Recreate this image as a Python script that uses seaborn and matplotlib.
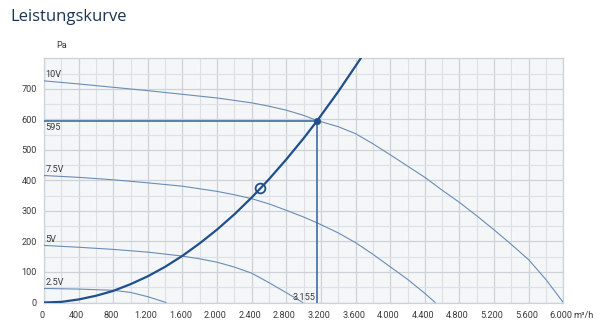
import matplotlib
matplotlib.use("Agg")
import matplotlib.pyplot as plt
from matplotlib.ticker import MultipleLocator, FuncFormatter
from matplotlib.transforms import ScaledTranslation
import seaborn as sns
import pandas as pd

# ---- data ----
q_10v = [0, 400, 800, 1200, 1600, 2000, 2400, 2600, 2800, 3000, 3155, 3400, 3600, 3800,
         4000, 4200, 4400, 4600, 4800, 5000, 5200, 5400, 5600, 5800, 6000]
p_10v = [726, 716, 705, 694, 682, 670, 654, 643, 630, 613, 596, 576, 553, 520,
         484, 447, 410, 368, 328, 284, 238, 190, 140, 75, 0]

q_75v = [0, 400, 800, 1200, 1600, 2000, 2200, 2400, 2600, 2800, 3000, 3155, 3400, 3600,
         3800, 4000, 4200, 4400, 4520]
p_75v = [416, 410, 402, 392, 381, 364, 353, 340, 323, 302, 280, 261, 228, 196,
         158, 117, 76, 30, 0]

q_5v = [0, 400, 800, 1200, 1600, 1800, 2000, 2200, 2400, 2600, 2800, 2990]
p_5v = [187, 181, 174, 165, 152, 143, 132, 116, 96, 65, 32, 0]

q_25v = [0, 400, 600, 800, 1000, 1200, 1410]
p_25v = [46, 44, 42, 40, 33, 19, 0]

q_sys = [0, 200, 400, 600, 800, 1000, 1200, 1400, 1600, 1800, 2000, 2200, 2400,
         2600, 2800, 3000, 3155, 3400, 3660]
p_sys = [0, 2, 10, 22, 38, 60, 86, 117, 153, 194, 239, 289, 344,
         404, 469, 538, 595, 691, 800]

curve_labels = ["10V", "7.5V", "5V", "2.5V"]
op_q, op_p = 3155, 595          # operating point
design_q, design_p = 2500, 374  # open circle
x_ticks = [0, 400, 800, 1200, 1600, 2000, 2400, 2800, 3200, 3600, 4000, 4400, 4800, 5200, 5600, 6000]
y_ticks = [0, 100, 200, 300, 400, 500, 600, 700]

# ---- style ----
sns.set_theme(style="white")
plt.rcParams["font.family"] = ["Roboto", "DejaVu Sans"]

fig = plt.figure(figsize=(6.0, 3.28), dpi=100)
ax = fig.add_axes([44 / 600, 1 - 302.5 / 328, (563.3 - 44) / 600, (302.5 - 58.3) / 328])
ax.set_facecolor("#f4f6f8")

curve_col = "#6a8db5"
dark = "#1f4f8c"
txt = "#3a3a3a"
fs = 6.6

frames = []
for lab, q, p in zip(curve_labels, [q_10v, q_75v, q_5v, q_25v], [p_10v, p_75v, p_5v, p_25v]):
    frames.append(pd.DataFrame({"q": q, "p": p, "curve": lab}))
df = pd.concat(frames, ignore_index=True)
sns.lineplot(data=df, x="q", y="p", hue="curve", sort=False, estimator=None,
             palette={k: curve_col for k in curve_labels}, linewidth=0.8, legend=False, ax=ax,
             zorder=3)

sys_df = pd.DataFrame({"q": q_sys, "p": p_sys})
sns.lineplot(data=sys_df, x="q", y="p", sort=False, estimator=None, color=dark,
             linewidth=1.6, ax=ax, zorder=4)

# operating point lines
ax.plot([0, op_q], [op_p, op_p], color="#2d62a0", linewidth=1.1, zorder=3)
ax.plot([op_q, op_q], [0, op_p], color="#2d62a0", linewidth=1.1, zorder=3)
sns.scatterplot(x=[op_q], y=[op_p], color=dark, s=22, edgecolor=dark, ax=ax, zorder=5)
ax.plot([design_q], [design_p], marker="o", markersize=7, markerfacecolor="none",
        markeredgecolor=dark, markeredgewidth=1.3, zorder=5, linestyle="none")

# curve labels
for lab, p0 in zip(curve_labels, [p_10v[0], p_75v[0], p_5v[0], p_25v[0]]):
    ax.text(20, p0 + 6, lab, fontsize=fs, color=txt, va="bottom", ha="left", zorder=6)
ax.text(20, op_p - 6, f"{op_p}", fontsize=fs, color=txt, va="top", ha="left", zorder=6)
ax.text(op_q - 15, 2, f"{op_q:,}".replace(",", "."), fontsize=fs, color=txt,
        va="bottom", ha="right", zorder=6)

# axes
ax.set_xlim(0, 6000)
ax.set_ylim(0, 800)
ax.set_xticks(x_ticks)
ax.set_yticks(y_ticks)
ax.xaxis.set_minor_locator(MultipleLocator(200))
ax.yaxis.set_minor_locator(MultipleLocator(50))
ax.xaxis.set_major_formatter(FuncFormatter(lambda v, _: f"{int(v):,}".replace(",", ".")))
ax.grid(True, which="major", color="#cdd2d8", linewidth=0.9)
ax.grid(True, which="minor", color="#dde1e6", linewidth=0.8)
ax.set_axisbelow(True)
for s in ax.spines.values():
    s.set_color("#cdd2d8")
    s.set_linewidth(0.9)
ax.tick_params(axis="both", which="major", labelsize=fs, labelcolor=txt, length=3,
               color="#cdd2d8", pad=3)
ax.tick_params(axis="y", which="major", length=0, pad=5)
ax.tick_params(which="minor", length=0)
ax.set_xlabel("")
ax.set_ylabel("")
shift = ScaledTranslation(-2 / 100, 0, fig.dpi_scale_trans)
for lbl in ax.get_xticklabels():
    lbl.set_transform(lbl.get_transform() + shift)

fig.text(573 / 600, 1 - 315.5 / 328, "m³/h", fontsize=fs, color=txt, ha="left", va="center")
fig.text(56 / 600, 1 - 45 / 328, "Pa", fontsize=fs, color=txt, ha="left", va="center")
fig.text(10 / 600, 1 - 17 / 328, "Leistungskurve", fontsize=12, color="#1a3553",
         ha="left", va="center", family=["Open Sans", "DejaVu Sans"], weight="medium")

fig.savefig("out.png", dpi=100, facecolor="white")
